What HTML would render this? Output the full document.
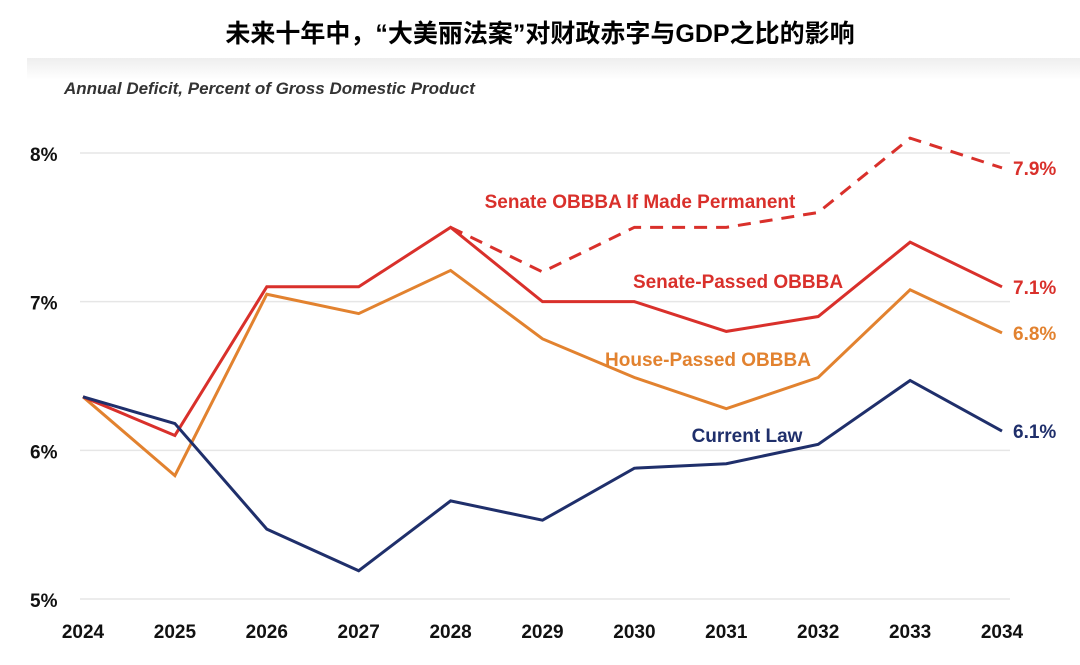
<!DOCTYPE html>
<html><head><meta charset="utf-8">
<style>
body{margin:0;width:1080px;height:665px;background:#fff;overflow:hidden;font-family:"Liberation Sans","Noto Sans CJK SC",sans-serif;}
#title{position:absolute;left:0;top:14px;width:1080px;text-align:center;font-size:25px;font-weight:bold;color:#000;}
#panel{position:absolute;left:27px;top:58px;width:1053px;height:607px;background:linear-gradient(#eee,#fff 22px);}
svg{position:absolute;left:0;top:0;}
</style></head><body>
<div id="title">未来十年中，“大美丽法案”对财政赤字与GDP之比的影响</div>
<div id="panel"></div>
<svg id="chart" width="1080" height="665"></svg>
<script>
const years=[2024,2025,2026,2027,2028,2029,2030,2031,2032,2033,2034];
const currentLaw=[6.36,6.18,5.47,5.19,5.66,5.53,5.88,5.91,6.04,6.47,6.13];
const senatePassed=[6.36,6.10,7.10,7.10,7.50,7.00,7.00,6.80,6.90,7.40,7.10];
const housePassed=[6.36,5.83,7.05,6.92,7.21,6.75,6.49,6.28,6.49,7.08,6.79];
const permYears=[2028,2029,2030,2031,2032,2033,2034];
const senatePermanent=[7.50,7.20,7.50,7.50,7.60,8.10,7.90];
const yTicks=[5,6,7,8];
const endLabels=["6.1%","7.1%","6.8%","7.9%"];

const svg=document.getElementById('chart');
const NS='http://www.w3.org/2000/svg';
const x=y=>83+(y-2024)*(1002-83)/10;
const yy=v=>599-(v-5)*(599-153)/3;
function mk(t,a){const e=document.createElementNS(NS,t);for(const k in a)e.setAttribute(k,a[k]);svg.appendChild(e);return e;}
function txt(s,a){const e=mk('text',a);e.textContent=s;return e;}

const sub=txt('Annual Deficit, Percent of Gross Domestic Product',{x:64,y:94,'font-size':17,'font-weight':'bold','font-style':'italic',fill:'#333'});



yTicks.forEach(v=>{
  const g=mk('line',{x1:80,x2:1010,y1:yy(v),y2:yy(v),stroke:'#e6e6e6','stroke-width':1.5});
  
  
  const t=txt(v+'%',{x:30,y:yy(v)+8,'font-size':19,'font-weight':'bold',fill:'#111'});
  
  
});
years.forEach(y=>{
  const t=txt(String(y),{x:x(y),y:638,'font-size':19,'font-weight':'bold',fill:'#111','text-anchor':'middle'});
  
  
});

function line(xs,vals,color,name,dash){
  const p=mk('polyline',{points:xs.map((y,i)=>x(y)+','+yy(vals[i])).join(' '),fill:'none',stroke:color,'stroke-width':3,'stroke-linejoin':'miter'});
  if(dash)p.setAttribute('stroke-dasharray',dash);
  
  
}
line(years,housePassed,'#e2822f','house-passed-line');
line(permYears,senatePermanent,'#d9302b','senate-permanent-line','13,9');
line(years,senatePassed,'#d9302b','senate-passed-line');
line(years,currentLaw,'#1f2f6b','current-law-line');

const labels=[
 ['Senate OBBBA If Made Permanent',640,208,'#d9302b','senate-permanent-label'],
 ['Senate-Passed OBBBA',738,288,'#d9302b','senate-passed-label'],
 ['House-Passed OBBBA',708,366,'#e2822f','house-passed-label'],
 ['Current Law',747,442,'#1f2f6b','current-law-label']];
labels.forEach(l=>{
  const t=txt(l[0],{x:l[1],y:l[2],'font-size':19,'font-weight':'bold',fill:l[3],'text-anchor':'middle'});
  
  
});
const ends=[[currentLaw,'#1f2f6b'],[senatePassed,'#d9302b'],[housePassed,'#e2822f'],[senatePermanent,'#d9302b']];
ends.forEach((e,i)=>{
  const v=e[0][e[0].length-1];
  const t=txt(endLabels[i],{x:1013,y:yy(v)+7,'font-size':19,'font-weight':'bold',fill:e[1]});
  
  
});
</script>
</body></html>
